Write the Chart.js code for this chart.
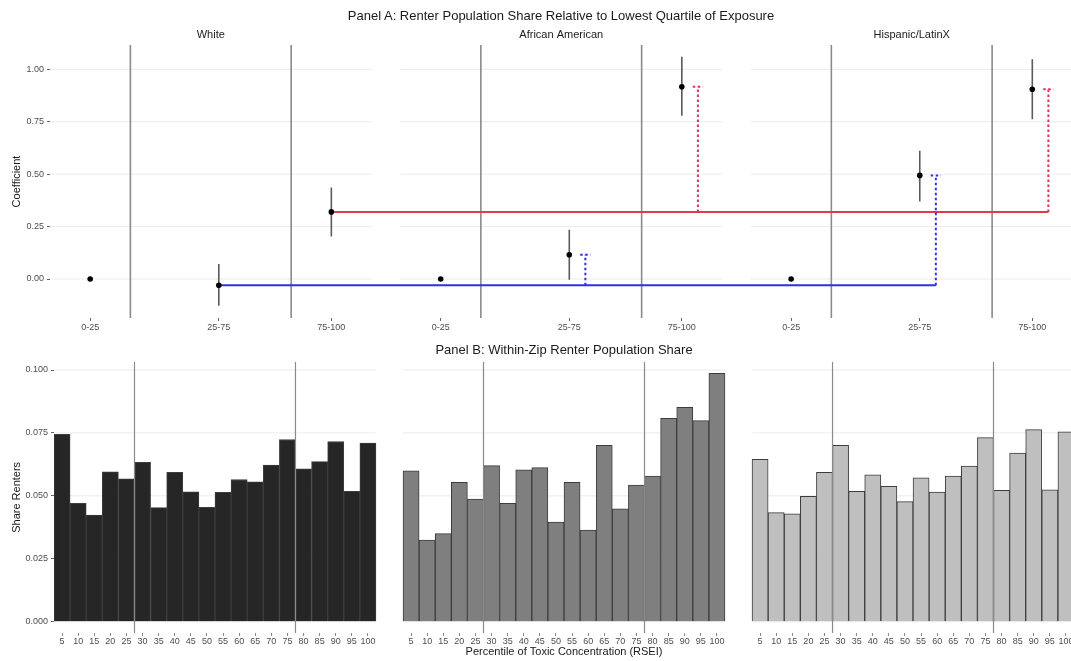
<!DOCTYPE html>
<html>
<head>
<meta charset="utf-8">
<script src="https://cdn.jsdelivr.net/npm/chart.js@4.4.1/dist/chart.umd.min.js"></script>
<style>
  body { margin: 0; background: #fff; overflow: hidden; width: 1071px; height: 661px; position: relative;
         font-family: "Liberation Sans", Arial, sans-serif; }
  canvas { position: absolute; left: 0; }
  #chartA { top: 0; }
  #chartB { top: 335px; }
  .ptitle { position: absolute; font-size: 13px; line-height: 15px; color: #1a1a1a;
            transform: translateX(-50%); white-space: nowrap; }
</style>
</head>
<body>
<canvas id="chartA" width="1080" height="335"></canvas>
<canvas id="chartB" width="1080" height="326"></canvas>
<div class="ptitle" style="left:561px; top:8px;">Panel A: Renter Population Share Relative to Lowest Quartile of Exposure</div>
<div class="ptitle" style="left:564px; top:342px;">Panel B: Within-Zip Renter Population Share</div>
<script>
// ---- data ----
const groups = ['White', 'African American', 'Hispanic/LatinX'];
const bins = ['0-25', '25-75', '75-100'];

const coefWhite = [0, -0.030, 0.320];
const lowWhite = [null, -0.127, 0.203];
const highWhite = [null, 0.071, 0.436];
const coefAfrican = [0, 0.116, 0.917];
const lowAfrican = [null, -0.003, 0.778];
const highAfrican = [null, 0.235, 1.060];
const coefHispanic = [0, 0.494, 0.905];
const lowHispanic = [null, 0.370, 0.762];
const highHispanic = [null, 0.612, 1.048];
const coefTicks = [0, 0.25, 0.5, 0.75, 1];

const percentiles = [5, 10, 15, 20, 25, 30, 35, 40, 45, 50, 55, 60, 65, 70, 75, 80, 85, 90, 95, 100];
const shareWhite = [0.0744, 0.0470, 0.0424, 0.0595, 0.0568, 0.0633, 0.0453, 0.0593, 0.0516, 0.0454,
                    0.0514, 0.0565, 0.0556, 0.0622, 0.0724, 0.0607, 0.0636, 0.0716, 0.0518, 0.0710];
const shareAfrican = [0.0599, 0.0324, 0.0350, 0.0554, 0.0487, 0.0620, 0.0470, 0.0603, 0.0612, 0.0396,
                      0.0554, 0.0364, 0.0701, 0.0448, 0.0543, 0.0579, 0.0808, 0.0852, 0.0799, 0.0987];
const shareHispanic = [0.0645, 0.0433, 0.0429, 0.0498, 0.0593, 0.0701, 0.0518, 0.0583, 0.0538, 0.0477,
                       0.0572, 0.0515, 0.0579, 0.0618, 0.0731, 0.0522, 0.0670, 0.0763, 0.0524, 0.0754];
const shareTicks = [0, 0.025, 0.05, 0.075, 0.1];

// ---- layout in axis units ----
const strideA = 109, strideB = 108.4;   // facet offsets
const binX = [12.5, 52.5, 87.5];
const dodge = 5, capHalf = 1.6;
const cutsA = [25, 75], cutsB = [27.5, 77.5];
const yMinA = -0.186, yMaxA = 1.116, yMinB = -0.0045, yMaxB = 0.1033;

Chart.defaults.font.family = '"Liberation Sans", Arial, sans-serif';
Chart.defaults.color = '#4d4d4d';

const coefs = [coefWhite, coefAfrican, coefHispanic];
const lows = [lowWhite, lowAfrican, lowHispanic];
const highs = [highWhite, highAfrican, highHispanic];
const shares = [shareWhite, shareAfrican, shareHispanic];

function hLines(levels, offsets, from, to) {
  const pts = [];
  offsets.forEach(o => levels.forEach(v => {
    pts.push({x: o + from, y: v}, {x: o + to, y: v}, {x: o + to, y: null});
  }));
  return pts;
}
function vLines(xs, y0, y1) {
  const pts = [];
  xs.forEach(x => pts.push({x: x, y: y0}, {x: x, y: y1}, {x: x, y: null}));
  return pts;
}
function seg(data, color, width, order, dash) {
  return { type: 'line', data: data, borderColor: color, borderWidth: width, borderDash: dash || [],
           pointRadius: 0, fill: false, tension: 0, spanGaps: false, order: order, borderCapStyle: 'butt' };
}

// ---- Panel A ----
const offA = groups.map((g, i) => i * strideA);
const redLevel = coefWhite[2], blueLevel = coefWhite[1];

const ciPts = [], dotPts = [], redDash = [], blueDash = [];
groups.forEach((g, i) => {
  bins.forEach((b, j) => {
    const x = offA[i] + binX[j];
    dotPts.push({x: x, y: coefs[i][j]});
    if (lows[i][j] !== null) ciPts.push({x: x, y: lows[i][j]}, {x: x, y: highs[i][j]}, {x: x, y: null});
  });
  if (i > 0) {
    const xr = offA[i] + binX[2] + dodge, xb = offA[i] + binX[1] + dodge;
    redDash.push({x: xr, y: redLevel}, {x: xr, y: coefs[i][2]}, {x: xr, y: null},
                 {x: xr - capHalf, y: coefs[i][2]}, {x: xr + capHalf, y: coefs[i][2]}, {x: xr + capHalf, y: null});
    blueDash.push({x: xb, y: blueLevel}, {x: xb, y: coefs[i][1]}, {x: xb, y: null},
                  {x: xb - capHalf, y: coefs[i][1]}, {x: xb + capHalf, y: coefs[i][1]}, {x: xb + capHalf, y: null});
  }
});
const redLine = [{x: binX[2], y: redLevel}, {x: offA[2] + binX[2] + dodge, y: redLevel}];
const blueLine = [{x: binX[1], y: blueLevel}, {x: offA[2] + binX[1] + dodge, y: blueLevel}];

const tickXA = [], tickLabA = [];
offA.forEach(o => bins.forEach((b, j) => { tickXA.push(o + binX[j]); tickLabA.push(b); }));
const cutXA = [];
offA.forEach(o => cutsA.forEach(c => cutXA.push(o + c)));

new Chart(document.getElementById('chartA'), {
  type: 'line',
  data: {
    datasets: [
      seg(hLines(coefTicks, offA, 0, 100), '#ebebeb', 1, 10),
      seg(vLines(cutXA, yMinA, yMaxA), '#8a8a8a', 1.6, 9),
      seg(redLine, '#e23a48', 2, 8),
      seg(blueLine, '#2f2fe8', 2, 8),
      seg(redDash, '#e0305a', 2, 7, [2.5, 2.5]),
      seg(blueDash, '#2f2fe8', 2, 7, [2.5, 2.5]),
      seg(ciPts, '#5a5a5a', 1.6, 6),
      { type: 'line', data: dotPts, showLine: false, pointRadius: 2.8, pointBackgroundColor: '#000',
        pointBorderWidth: 0, order: 5 }
    ]
  },
  options: {
    responsive: false, animation: false, events: [], devicePixelRatio: 1,
    layout: { padding: { top: 0, right: 7.5, left: 0, bottom: 0 } },
    plugins: { legend: { display: false }, tooltip: { enabled: false } },
    scales: {
      x: {
        type: 'linear', min: 0, max: 318,
        afterBuildTicks: s => { s.ticks = tickXA.map(v => ({value: v})); },
        afterFit: s => { s.height = 17; },
        ticks: { callback: (v, i) => tickLabA[i], font: { size: 9 }, color: '#4d4d4d',
                 autoSkip: false, maxRotation: 0, padding: 1 },
        grid: { drawOnChartArea: false, tickLength: 3, color: '#666' },
        border: { display: false }
      },
      strip: {
        type: 'linear', position: 'top', min: 0, max: 318,
        afterBuildTicks: s => { s.ticks = offA.map(o => ({value: o + 50})); },
        afterFit: s => { s.height = 45; },
        ticks: { callback: (v, i) => groups[i], font: { size: 11 }, color: '#1a1a1a',
                 autoSkip: false, maxRotation: 0, padding: 3 },
        grid: { display: false, drawTicks: false }, border: { display: false }
      },
      y: {
        min: yMinA, max: yMaxA,
        afterBuildTicks: s => { s.ticks = coefTicks.map(v => ({value: v})); },
        afterFit: s => { s.width = 50; },
        ticks: { callback: v => v.toFixed(2), font: { size: 9 }, color: '#4d4d4d', padding: 3 },
        grid: { drawOnChartArea: false, tickLength: 3, color: '#666' },
        border: { display: false },
        title: { display: true, text: 'Coefficient', font: { size: 11 }, color: '#1a1a1a',
                 padding: { top: 10, bottom: 0 } }
      }
    }
  }
});

// ---- Panel B ----
const offB = groups.map((g, i) => i * strideB);
const barFill = ['#262626', '#7f7f7f', '#bfbfbf'];
const barPts = [], barColors = [], tickXB = [], tickLabB = [];
groups.forEach((g, i) => {
  percentiles.forEach((p, k) => {
    barPts.push({x: offB[i] + p, y: shares[i][k]});
    barColors.push(barFill[i]);
    tickXB.push(offB[i] + p);
    tickLabB.push(String(p));
  });
});
const cutXB = [];
offB.forEach(o => cutsB.forEach(c => cutXB.push(o + c)));

new Chart(document.getElementById('chartB'), {
  type: 'bar',
  data: {
    datasets: [
      seg(hLines(shareTicks, offB, 2.5, 102.5), '#ebebeb', 1, 10),
      { type: 'bar', data: barPts, backgroundColor: barColors, borderColor: '#3d3d3d', borderWidth: 1,
        barPercentage: 1, categoryPercentage: 1, order: 8 },
      seg(vLines(cutXB, yMinB, yMaxB), '#8a8a8a', 1.2, 6)
    ]
  },
  options: {
    responsive: false, animation: false, events: [], devicePixelRatio: 1,
    layout: { padding: { top: 26.7, right: 6, left: 0, bottom: 0 } },
    plugins: { legend: { display: false }, tooltip: { enabled: false } },
    scales: {
      x: {
        type: 'linear', min: 2.5, max: 319.3, offset: false,
        afterBuildTicks: s => { s.ticks = tickXB.map(v => ({value: v})); },
        afterFit: s => { s.height = 28; },
        ticks: { callback: (v, i) => tickLabB[i], font: { size: 9 }, color: '#4d4d4d',
                 autoSkip: false, maxRotation: 0, padding: 0 },
        grid: { drawOnChartArea: false, offset: false, tickLength: 3, color: '#888' },
        border: { display: false },
        title: { display: true, text: 'Percentile of Toxic Concentration (RSEI)', font: { size: 11 },
                 color: '#1a1a1a', padding: { top: 0, bottom: 2.7 } }
      },
      y: {
        min: yMinB, max: yMaxB,
        afterBuildTicks: s => { s.ticks = shareTicks.map(v => ({value: v})); },
        afterFit: s => { s.width = 54; },
        ticks: { callback: v => v.toFixed(3), font: { size: 9 }, color: '#4d4d4d', padding: 3 },
        grid: { drawOnChartArea: false, tickLength: 3, color: '#666' },
        border: { display: false },
        title: { display: true, text: 'Share Renters', font: { size: 11 }, color: '#1a1a1a',
                 padding: { top: 10, bottom: 0 } }
      }
    }
  }
});
</script>
</body>
</html>
